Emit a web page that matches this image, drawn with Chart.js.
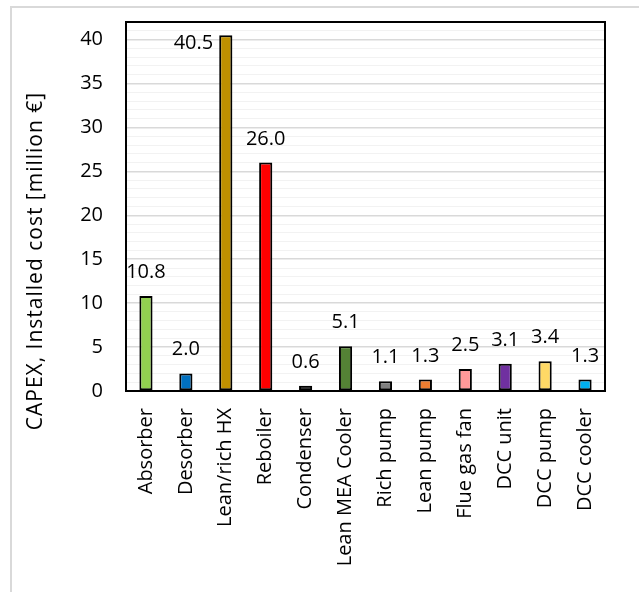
<!DOCTYPE html>
<html>
<head>
<meta charset="utf-8">
<script src="https://cdn.jsdelivr.net/npm/chart.js@4.4.1/dist/chart.umd.min.js"></script>
<style>
    body { margin: 0; background: #fff; }
    #capexChart { display: block; }
</style>
</head>
<body>
<canvas id="capexChart" width="639" height="592"></canvas>
<script>
const categorias = ['Absorber', 'Desorber', 'Lean/rich HX', 'Reboiler', 'Condenser', 'Lean MEA Cooler',
    'Rich pump', 'Lean pump', 'Flue gas fan', 'DCC unit', 'DCC pump', 'DCC cooler'];
const custos = [10.8, 2.0, 40.5, 26.0, 0.6, 5.1, 1.1, 1.3, 2.5, 3.1, 3.4, 1.3];
const cores = ['#92d050', '#0070c0', '#bf9000', '#ff0000', '#000000', '#548235',
    '#808080', '#ed7d31', '#ff9999', '#7030a0', '#ffd966', '#00b0f0'];
const yTitulo = 'CAPEX, Installed cost [million €]';
const yMax = 42;

document.addEventListener('DOMContentLoaded', function() {
    const fonte = '"Open Sans", "DejaVu Sans", sans-serif';

    // moldura cinza externa, caixa preta do plot, titulo do eixo y e rotulos das barras
    const extras = {
        id: 'extras',
        beforeDraw(chart) {
            const ctx = chart.ctx;
            ctx.save();
            ctx.strokeStyle = '#d9d9d9';
            ctx.lineWidth = 2;
            ctx.beginPath();
            ctx.moveTo(11, chart.height);
            ctx.lineTo(11, 7);
            ctx.lineTo(chart.width, 7);
            ctx.stroke();
            ctx.restore();
        },
        afterDraw(chart) {
            const ctx = chart.ctx;
            const area = chart.chartArea;
            ctx.save();
            ctx.strokeStyle = '#000';
            ctx.lineWidth = 2;
            ctx.strokeRect(area.left, area.top, area.right - area.left, area.bottom - area.top);

            ctx.fillStyle = '#000';
            ctx.font = '21px ' + fonte;
            ctx.letterSpacing = '1px';
            ctx.translate(42, 261);
            ctx.rotate(-Math.PI / 2);
            ctx.textAlign = 'center';
            ctx.textBaseline = 'alphabetic';
            ctx.fillText(yTitulo, 0, 0);
            ctx.restore();

            ctx.save();
            ctx.fillStyle = '#000';
            ctx.font = '20px ' + fonte;
            ctx.textBaseline = 'alphabetic';
            chart.getDatasetMeta(0).data.forEach((bar, i) => {
                const texto = custos[i].toFixed(1);
                if (bar.y - 33 < area.top) {
                    // sem espaco acima: coloca ao lado esquerdo
                    ctx.textAlign = 'right';
                    ctx.fillText(texto, bar.x - bar.width / 2 - 6, bar.y + 14);
                } else {
                    ctx.textAlign = 'center';
                    ctx.fillText(texto, bar.x, bar.y - 18);
                }
            });
            ctx.restore();
        }
    };

    new Chart(document.getElementById('capexChart'), {
        type: 'bar',
        data: {
            labels: categorias,
            datasets: [{
                data: custos,
                backgroundColor: cores,
                borderColor: '#000',
                borderWidth: 2,
                borderSkipped: false,
                categoryPercentage: 1,
                barPercentage: 0.33
            }]
        },
        options: {
            responsive: false,
            animation: false,
            layout: { padding: { left: 0, right: 34, top: 22, bottom: 0 } },
            plugins: {
                legend: { display: false },
                tooltip: { enabled: false }
            },
            scales: {
                x: {
                    grid: { display: false, drawTicks: false },
                    border: { display: false },
                    ticks: {
                        color: '#000',
                        font: { family: fonte, size: 20 },
                        minRotation: 90,
                        maxRotation: 90,
                        autoSkip: false,
                        padding: 17
                    },
                    afterFit: function(scale) {
                        scale.height = 201;
                        scale.paddingLeft = 0;
                        scale.paddingRight = 0;
                    }
                },
                y: {
                    min: 0,
                    max: yMax,
                    grid: {
                        drawTicks: false,
                        color: ctx => (ctx.tick.value % 5 === 0 ? '#d9d9d9' : '#f2f2f2'),
                        lineWidth: ctx => (ctx.tick.value % 5 === 0 ? 1.5 : 1)
                    },
                    border: { display: false },
                    ticks: {
                        stepSize: 1,
                        maxTicksLimit: 100,
                        autoSkip: false,
                        color: '#000',
                        font: { family: fonte, size: 20 },
                        padding: 23,
                        callback: v => (v % 5 === 0 && v <= 40 ? v : '')
                    },
                    afterFit: function(scale) {
                        scale.width = 126;
                        scale.paddingTop = 0;
                        scale.paddingBottom = 0;
                    }
                }
            }
        },
        plugins: [extras]
    });
});
</script>
</body>
</html>
